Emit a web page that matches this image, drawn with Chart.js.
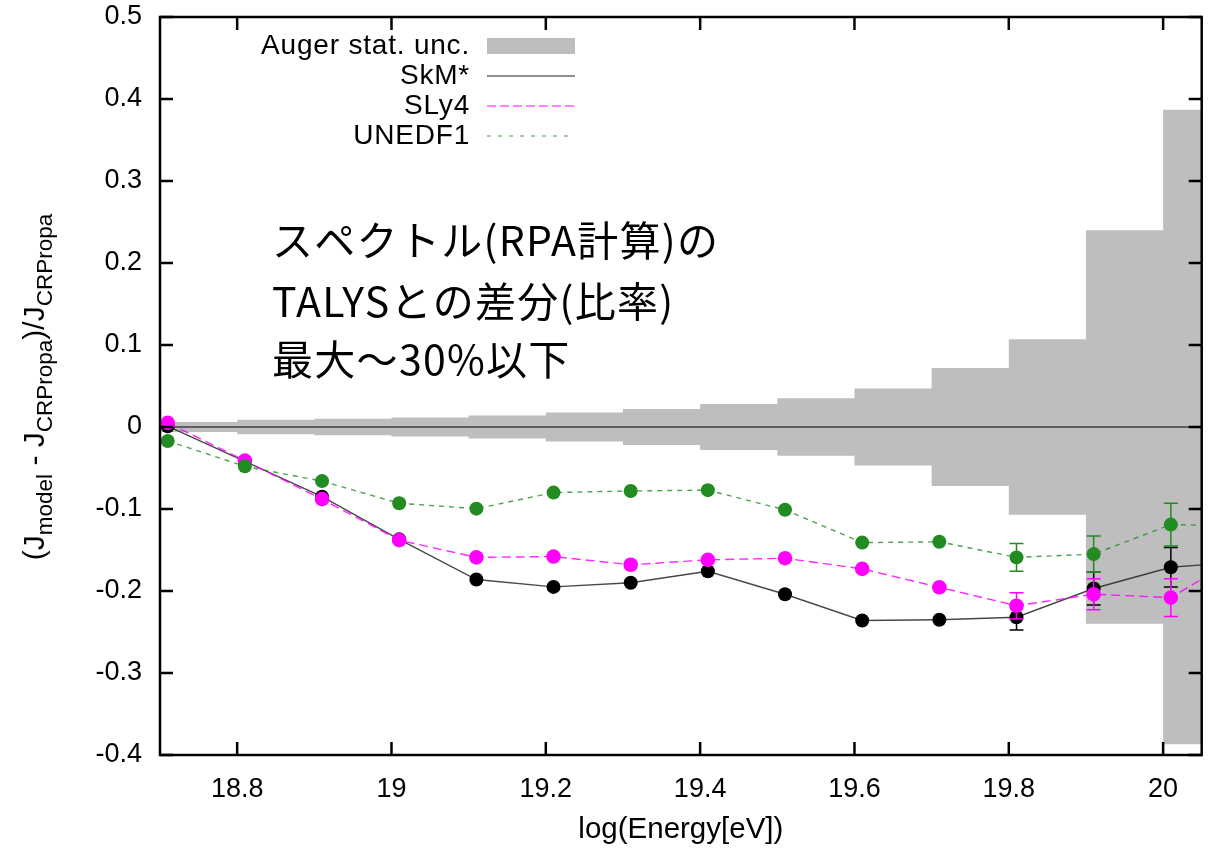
<!DOCTYPE html>
<html>
<head>
<meta charset="utf-8">
<script src="https://cdn.jsdelivr.net/npm/chart.js@4"></script>
<style>
  body { margin: 0; background: #fff; }
  #wrap { width: 1209px; height: 851px; position: relative; }
</style>
</head>
<body>
<div id="wrap"><canvas id="ratioChart"></canvas></div>
<script>
// Auger statistical uncertainty, one value per energy bin (bin lower edges)
var binStart = [18.7, 18.8, 18.9, 19.0, 19.1, 19.2, 19.3, 19.4, 19.5, 19.6, 19.7, 19.8, 19.9, 20.0];
var statUnc  = [0.006, 0.0088, 0.010, 0.0117, 0.014, 0.0177, 0.022, 0.028, 0.035, 0.047, 0.072, 0.107, 0.240, 0.387];

// model points
var logE   = [18.71, 18.81, 18.91, 19.01, 19.11, 19.21, 19.31, 19.41, 19.51, 19.61, 19.71, 19.81, 19.91, 20.01, 20.11];
var skm    = [0.001, -0.042, -0.085, -0.137, -0.186, -0.195, -0.190, -0.176, -0.204, -0.236, -0.235, -0.232, -0.197, -0.171, -0.164];
var sly4   = [0.005, -0.041, -0.088, -0.138, -0.159, -0.158, -0.168, -0.162, -0.160, -0.173, -0.1955, -0.218, -0.204, -0.208, -0.152];
var unedf1 = [-0.017, -0.048, -0.066, -0.093, -0.0996, -0.080, -0.078, -0.077, -0.101, -0.141, -0.140, -0.159, -0.155, -0.119, -0.121];

// error bars (only visible ones, the rest are hidden by markers)
var skmErr    = [null, null, null, null, null, null, null, null, null, null, null, 0.0155, 0.020, 0.024, null];
var sly4Err   = [null, null, null, null, null, null, null, null, null, null, null, 0.016, 0.019, 0.023, null];
var unedf1Err = [null, null, null, null, null, null, null, null, null, null, null, 0.017, 0.022, 0.026, null];

var xTicks = [18.8, 19.0, 19.2, 19.4, 19.6, 19.8, 20.0];
var yTicks = [-0.4, -0.3, -0.2, -0.1, 0, 0.1, 0.2, 0.3, 0.4, 0.5];

var note = ['スペクトル(RPA計算)の', 'TALYSとの差分(比率)', '最大～30%以下'];

var SANS = "'Liberation Sans', Arial, sans-serif";
Chart.defaults.font.family = SANS;
Chart.defaults.color = '#000';

function pts(xs, ys) {
  return xs.map(function (x, i) { return { x: x, y: ys[i] }; });
}
function band(sign) {
  var d = binStart.map(function (x, i) { return { x: x, y: sign * statUnc[i] }; });
  d.push({ x: 20.1, y: sign * statUnc[statUnc.length - 1] });
  return d;
}
function fmt(v) { return String(+Number(v).toFixed(1)); }

var frameAndExtras = {
  id: 'frameAndExtras',
  afterDatasetDraw: function (chart, args) {
    var ds = chart.data.datasets[args.index];
    if (!ds.zeroAfter) return;
    var a = chart.chartArea, y0 = chart.scales.y.getPixelForValue(0);
    var ctx = chart.ctx;
    ctx.save();
    ctx.strokeStyle = '#000';
    ctx.lineWidth = 1.2;
    ctx.beginPath(); ctx.moveTo(a.left, y0); ctx.lineTo(a.right, y0); ctx.stroke();
    ctx.restore();
  },
  beforeDatasetDraw: function (chart, args) {
    var ds = chart.data.datasets[args.index];
    if (!ds.errors) return;
    var a = chart.chartArea, xs = chart.scales.x, ys = chart.scales.y, ctx = chart.ctx;
    ctx.save();
    ctx.beginPath(); ctx.rect(a.left, a.top, a.right - a.left, a.bottom - a.top); ctx.clip();
    ctx.strokeStyle = ds.pointBackgroundColor;
    ctx.lineWidth = 1.5;
    ds.data.forEach(function (p, i) {
      var e = ds.errors[i];
      if (e == null) return;
      var px = xs.getPixelForValue(p.x);
      var t = ys.getPixelForValue(p.y + e), b = ys.getPixelForValue(p.y - e);
      ctx.beginPath();
      ctx.moveTo(px, t); ctx.lineTo(px, b);
      ctx.moveTo(px - 7, t); ctx.lineTo(px + 7, t);
      ctx.moveTo(px - 7, b); ctx.lineTo(px + 7, b);
      ctx.stroke();
    });
    ctx.restore();
  },
  afterDraw: function (chart) {
    var a = chart.chartArea, xs = chart.scales.x, ys = chart.scales.y, ctx = chart.ctx;
    ctx.save();
    // frame + inward ticks on all four sides
    ctx.strokeStyle = '#000';
    ctx.lineWidth = 2.5;
    ctx.strokeRect(a.left, a.top, a.right - a.left, a.bottom - a.top);
    var tl = 13;
    ctx.beginPath();
    xTicks.forEach(function (v) {
      var px = xs.getPixelForValue(v);
      ctx.moveTo(px, a.bottom); ctx.lineTo(px, a.bottom - tl);
      ctx.moveTo(px, a.top); ctx.lineTo(px, a.top + tl);
    });
    yTicks.forEach(function (v) {
      var py = ys.getPixelForValue(v);
      ctx.moveTo(a.left, py); ctx.lineTo(a.left + tl, py);
      ctx.moveTo(a.right, py); ctx.lineTo(a.right - tl, py);
    });
    ctx.stroke();

    // legend (text right aligned, sample on the right)
    var rows = [46, 76, 106, 136];
    ctx.font = '28px ' + SANS;
    ctx.fillStyle = '#000';
    ctx.textAlign = 'right';
    ctx.textBaseline = 'middle';
    ctx.letterSpacing = '0.8px';
    chart.data.datasets.filter(function (d) { return d.legend; }).forEach(function (d, i) {
      var y = rows[i];
      ctx.fillText(d.label, 470, y);
      if (d.legend.band) {
        ctx.fillStyle = d.legend.color;
        ctx.fillRect(487, y - 8, 88, 16);
        ctx.fillStyle = '#000';
      } else {
        ctx.strokeStyle = d.legend.color;
        ctx.lineWidth = 2;
        ctx.setLineDash(d.legend.dash);
        ctx.beginPath(); ctx.moveTo(487, y); ctx.lineTo(575, y); ctx.stroke();
        ctx.setLineDash([]);
      }
    });

    // annotation
    ctx.textAlign = 'left';
    ctx.font = '41px "Noto Sans CJK JP", sans-serif';
    ctx.letterSpacing = '1.3px';
    ctx.fillStyle = '#000';
    [240, 301, 359].forEach(function (y, i) { ctx.fillText(note[i], 272, y); });
    ctx.letterSpacing = '0px';

    // x title
    ctx.font = '29.5px ' + SANS;
    ctx.textAlign = 'center';
    ctx.fillText('log(Energy[eV])', (a.left + a.right) / 2, 830);

    // y title with subscripts
    var parts = [['(J', 0], ['model', 1], [' - J', 0], ['CRPropa', 1], [')/J', 0], ['CRPropa', 1]];
    var big = '30px ' + SANS, small = '22.5px ' + SANS;
    var total = 0;
    parts.forEach(function (p) { ctx.font = p[1] ? small : big; total += ctx.measureText(p[0]).width; });
    ctx.translate(44, 387);
    ctx.rotate(-Math.PI / 2);
    ctx.textAlign = 'left';
    ctx.textBaseline = 'alphabetic';
    var x = -total / 2;
    parts.forEach(function (p) {
      ctx.font = p[1] ? small : big;
      ctx.fillText(p[0], x, p[1] ? 8 : 0);
      x += ctx.measureText(p[0]).width;
    });
    ctx.restore();
  }
};

var ctx = document.getElementById('ratioChart').getContext('2d');
var chart = new Chart(ctx, {
  type: 'scatter',
  data: {
    datasets: [
      {
        label: 'Auger stat. unc.',
        type: 'line',
        data: band(1),
        stepped: 'before',
        fill: 'origin',
        backgroundColor: '#bebebe',
        borderColor: 'transparent',
        borderWidth: 0,
        pointRadius: 0,
        order: 10,
        zeroAfter: true,
        legend: { band: true, color: '#bebebe' }
      },
      {
        label: 'stat lower',
        type: 'line',
        data: band(-1),
        stepped: 'before',
        fill: 'origin',
        backgroundColor: '#bebebe',
        borderColor: 'transparent',
        borderWidth: 0,
        pointRadius: 0,
        order: 11
      },
      {
        label: 'SkM*',
        data: pts(logE, skm),
        showLine: true,
        borderColor: 'rgba(40,40,40,0.85)',
        borderWidth: 1.4,
        pointBackgroundColor: '#000',
        pointBorderWidth: 0,
        pointRadius: 7,
        errors: skmErr,
        order: 3,
        legend: { color: '#909090', dash: [] }
      },
      {
        label: 'SLy4',
        data: pts(logE, sly4),
        showLine: true,
        borderColor: 'rgba(255,0,255,0.85)',
        borderWidth: 1.4,
        borderDash: [9, 5],
        pointBackgroundColor: '#ff00ff',
        pointBorderWidth: 0,
        pointRadius: 7.3,
        errors: sly4Err,
        order: 2,
        legend: { color: '#ff80ff', dash: [9, 4] }
      },
      {
        label: 'UNEDF1',
        data: pts(logE, unedf1),
        showLine: true,
        borderColor: 'rgba(34,139,34,0.8)',
        borderWidth: 1.4,
        borderDash: [5, 5],
        pointBackgroundColor: '#228b22',
        pointBorderWidth: 0,
        pointRadius: 7,
        errors: unedf1Err,
        order: 1,
        legend: { color: '#a0d0a0', dash: [4, 7] }
      }
    ]
  },
  options: {
    responsive: true,
    maintainAspectRatio: false,
    animation: false,
    layout: { padding: { top: 17, right: 7, left: 0, bottom: 0 } },
    plugins: { legend: { display: false }, tooltip: { enabled: false } },
    scales: {
      x: {
        type: 'linear',
        min: 18.7,
        max: 20.05,
        afterBuildTicks: function (s) { s.ticks = xTicks.map(function (v) { return { value: v }; }); },
        afterFit: function (s) { s.height = 96; s.paddingLeft = 0; s.paddingRight = 0; },
        grid: { display: false, drawTicks: false },
        border: { display: false },
        ticks: { font: { size: 27 }, color: '#000', padding: 18, maxRotation: 0, autoSkip: false, callback: fmt }
      },
      y: {
        min: -0.4,
        max: 0.5,
        afterBuildTicks: function (s) { s.ticks = yTicks.map(function (v) { return { value: v }; }); },
        afterFit: function (s) { s.width = 160; s.paddingTop = 0; s.paddingBottom = 0; },
        grid: { display: false, drawTicks: false },
        border: { display: false },
        ticks: { font: { size: 27 }, color: '#000', padding: 18, autoSkip: false, callback: fmt }
      }
    }
  },
  plugins: [frameAndExtras]
});
</script>
</body>
</html>
